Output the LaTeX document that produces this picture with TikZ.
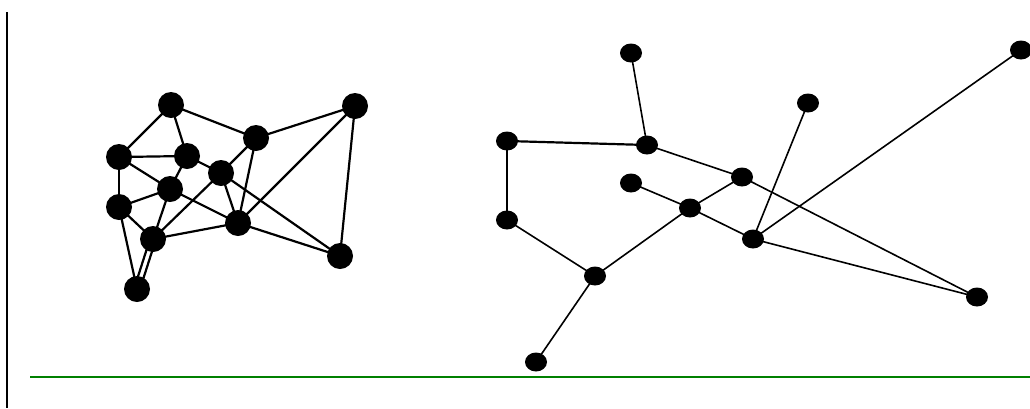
\documentclass[tikz,border=0pt]{standalone}
\usetikzlibrary{shapes.geometric,backgrounds}
\begin{document}
\begin{tikzpicture}[x=1pt,y=-1pt,
  lnode/.style={circle,fill=black,draw=none,minimum size=26pt,inner sep=0pt},
  rnode/.style={ellipse,fill=black,draw=none,minimum width=22pt,minimum height=19pt,inner sep=0pt},
  ledge/.style={line width=2.2pt,black},
  redge/.style={line width=1.6pt,black}]
\useasboundingbox (0,0) rectangle (1030,408);
% frame lines
\coordinate (vt) at (7,12);
\coordinate (vb) at (7,408);
\coordinate (gl) at (30,377);
\coordinate (gr) at (1030,377);
\draw[line width=2pt,black] (vt) -- (vb);
\draw[line width=2pt,color={rgb,255:red,0;green,128;blue,0}] (gl) -- (gr);
% left graph
\foreach \n/\x/\y in {A/171/105,B/355/106,C/256/138,D/119/157,E/187/156,F/221/173,
                      G/170/189,H/119/207,I/238/223,J/153/239,K/340/256,L/137/289}
  \node[lnode] (\n) at (\x,\y) {};
\begin{pgfonlayer}{background}
\foreach \a/\b in {A/D,A/E,A/C,C/B,D/E,D/H,D/G,E/G,E/F,G/H,G/J,G/I,H/J,H/L,J/F,J/I,C/F,C/I,F/I,I/B,F/K,I/K,B/K}
  \draw[ledge] (\a.center) -- (\b.center);
\draw[ledge] ([xshift=-3pt]L.center) -- ([xshift=-3pt]J.center);
\draw[ledge] ([xshift=3pt]L.center) -- ([xshift=3pt]J.center);
\end{pgfonlayer}
% right graph
\foreach \n/\x/\y in {R1/631/53,R2/1021/50,R3/808/103,R4/507/141,R5/647/145,R6/742/177,
                      R7/631/183,R8/690/208,R9/753/239,R10/507/220,R11/595/276,R12/977/297,R13/536/362}
  \node[rnode] (\n) at (\x,\y) {};
\begin{pgfonlayer}{background}
\foreach \a/\b in {R1/R5,R4/R10,R5/R6,R10/R11,R11/R13,R11/R8,R8/R6,R7/R8,R8/R9,R6/R12,R9/R3,R9/R2,R9/R12}
  \draw[redge] (\a.center) -- (\b.center);
\draw[ledge] (R4.center) -- (R5.center);
\end{pgfonlayer}
\end{tikzpicture}
\end{document}
